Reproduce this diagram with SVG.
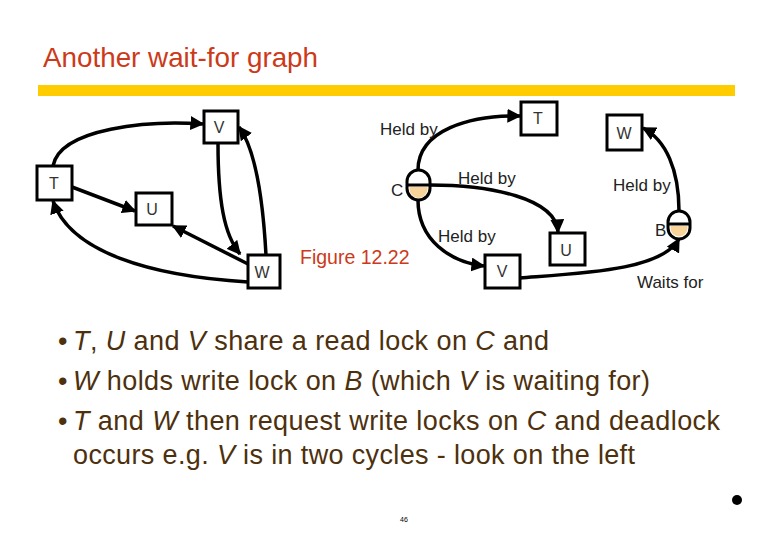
<svg xmlns="http://www.w3.org/2000/svg" width="780" height="540" viewBox="0 0 780 540">
<defs>
<marker id="ah" viewBox="0 0 10 10" refX="9" refY="5" markerWidth="4" markerHeight="4" orient="auto" markerUnits="strokeWidth">
<path d="M0,0 L10,5 L0,10 z" fill="#000"/>
</marker>
<style>
.box{fill:#fff;stroke:#000;stroke-width:3}
.nl{font-family:"Liberation Sans",Arial,sans-serif;font-size:16px;fill:#333;text-anchor:middle}
.lbl{font-family:"Liberation Sans",Arial,sans-serif;font-size:17px;fill:#222}
.edge{fill:none;stroke:#000;stroke-width:3.5;marker-end:url(#ah)}
.lock{fill:#fff;stroke:#000;stroke-width:3}
.bt{font-family:"Liberation Sans",Arial,sans-serif;font-size:27px;fill:#4d300d}
.i{font-style:italic}
</style>
</defs>
<rect width="780" height="540" fill="#fff"/>
<text x="43" y="67" font-family="Liberation Sans,Arial,sans-serif" font-size="27.8" fill="#cc3a1a">Another wait-for graph</text>
<rect x="38" y="85" width="697" height="11" fill="#ffcc00"/>

<g id="connectors">
<path class="edge" d="M53,166 C60,128 150,120 203,124"/>
<path class="edge" d="M72,187 L135,211"/>
<path class="edge" d="M218,143 C218,200 224,235 240,254"/>
<path class="edge" d="M266,255 C263,200 256,150 239,127"/>
<path class="edge" d="M248,264 L173,226"/>
<path class="edge" d="M248,282 C150,276 70,252 53,201"/>
<path class="edge" d="M418,170 C418,130 470,115 520,116"/>
<path class="edge" d="M430,185 C490,185 556,198 558,232"/>
<path class="edge" d="M418,200 C418,240 450,262 484,266"/>
<path class="edge" d="M520,278 C585,273 662,270 679,239"/>
<path class="edge" d="M679,211 C679,170 666,140 643,128"/>
</g>

<g id="lT"><rect class="box" x="37" y="166" width="35" height="34"/><text class="nl" x="54" y="189">T</text></g>
<g id="lV"><rect class="box" x="204" y="111" width="34" height="32"/><text class="nl" x="219" y="133">V</text></g>
<g id="lU"><rect class="box" x="136" y="193" width="36" height="32"/><text class="nl" x="152" y="215">U</text></g>
<g id="lW"><rect class="box" x="248" y="255" width="32" height="33"/><text class="nl" x="262" y="278">W</text></g>

<text x="300" y="264" font-family="Liberation Sans,Arial,sans-serif" font-size="19.5" fill="#cc3a1a">Figure 12.22</text>

<g id="rT"><rect class="box" x="521" y="102" width="36" height="33"/><text class="nl" x="538" y="124">T</text></g>
<g id="rW"><rect class="box" x="607" y="115" width="35" height="35"/><text class="nl" x="624" y="139">W</text></g>
<g id="rU"><rect class="box" x="550" y="233" width="35" height="32"/><text class="nl" x="566" y="256">U</text></g>
<g id="rV"><rect class="box" x="485" y="255" width="35" height="33"/><text class="nl" x="502" y="277">V</text></g>

<g id="C">
<rect class="lock" x="407" y="170" width="23" height="30" rx="11.5"/>
<path d="M409.5,187 L427.5,187 L427.5,189 A9,9 0 0 1 409.5,189 Z" fill="#f8d49a"/>
<line x1="407" y1="185" x2="430" y2="185" stroke="#000" stroke-width="3"/>
<text class="lbl" x="391" y="196">C</text>
</g>
<g id="B">
<rect class="lock" x="668" y="211" width="22" height="28" rx="11"/>
<path d="M670.5,226 L687.5,226 L687.5,228 A8.5,8.5 0 0 1 670.5,228 Z" fill="#f8d49a"/>
<line x1="668" y1="224" x2="690" y2="224" stroke="#000" stroke-width="3"/>
<text class="lbl" x="655" y="236">B</text>
</g>

<g id="labels">
<text class="lbl" x="380" y="135">Held by</text>
<text class="lbl" x="458" y="184">Held by</text>
<text class="lbl" x="438" y="242">Held by</text>
<text class="lbl" x="613" y="191">Held by</text>
<text class="lbl" x="637" y="288">Waits for</text>
</g>

<g id="bullets">
<text class="bt" x="58" y="350">•</text>
<text class="bt" x="73" y="350" textLength="476"><tspan class="i">T</tspan>, <tspan class="i">U</tspan> and <tspan class="i">V</tspan> share a read lock on <tspan class="i">C</tspan> and</text>
<text class="bt" x="58" y="390">•</text>
<text class="bt" x="73" y="390" textLength="577"><tspan class="i">W</tspan> holds write lock on <tspan class="i">B</tspan> (which  <tspan class="i">V</tspan> is waiting for)</text>
<text class="bt" x="58" y="430">•</text>
<text class="bt" x="73" y="430" textLength="647"><tspan class="i">T</tspan> and <tspan class="i">W</tspan> then request write locks on <tspan class="i">C</tspan> and deadlock</text>
<text class="bt" x="73" y="464" textLength="562">occurs e.g.  <tspan class="i">V</tspan> is in two cycles - look on the left</text>
</g>

<text x="400" y="522" font-family="Liberation Sans,Arial,sans-serif" font-size="7" fill="#000">46</text>
<circle cx="737" cy="500" r="5" fill="#000"/>
</svg>
